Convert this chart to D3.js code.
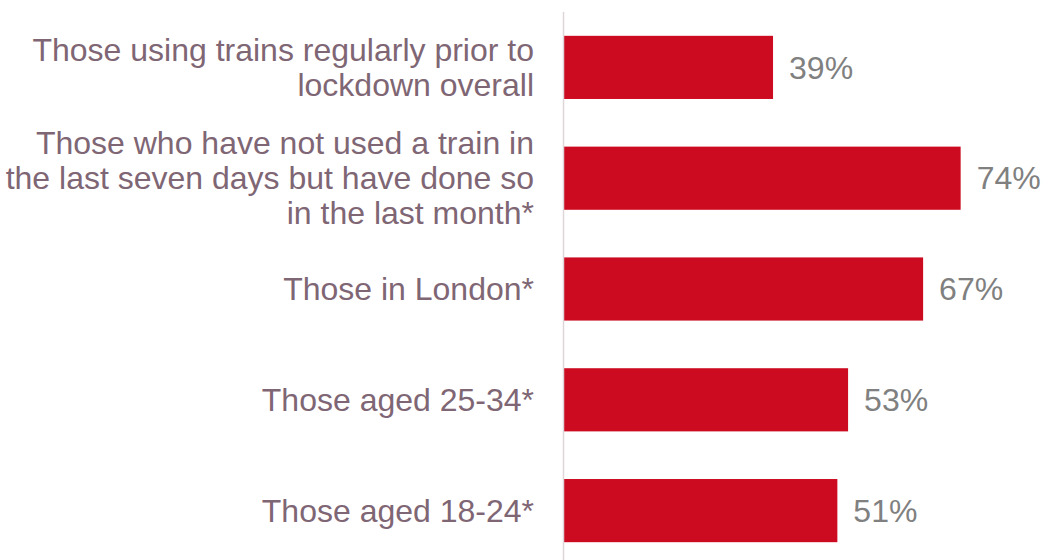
<!DOCTYPE html>
<html><head><meta charset="utf-8">
<script src="https://cdn.jsdelivr.net/npm/d3@7"></script>
<style>body{margin:0;background:#fff}svg{display:block}</style>
</head><body>
<script>
const categories = [
  ["Those using trains regularly prior to", "lockdown overall"],
  ["Those who have not used a train in", "the last seven days but have done so", "in the last month*"],
  ["Those in London*"],
  ["Those aged 25-34*"],
  ["Those aged 18-24*"]
];
const values = [39, 74, 67, 53, 51];
const valueLabels = ["39%", "74%", "67%", "53%", "51%"];

const W = 1044, H = 560;
const svg = d3.select("body").append("svg").attr("width", W).attr("height", H);
const x0 = 564;
const x = d3.scaleLinear().domain([0, 100]).range([x0, x0 + 536]);
const y = d3.scaleBand().domain(d3.range(values.length)).range([12, 566]).paddingInner(0.43).paddingOuter(0.215);

svg.selectAll("rect.bar").data(values).join("rect")
  .attr("class", "bar")
  .attr("x", x(0)).attr("y", (d, i) => y(i))
  .attr("width", d => x(d) - x(0)).attr("height", y.bandwidth())
  .attr("fill", "#cc0a20");

svg.append("line").attr("x1", x0 - 0.5).attr("x2", x0 - 0.5).attr("y1", 12).attr("y2", H)
  .attr("stroke", "#ddd5d8").attr("stroke-width", 1.5);

svg.selectAll("text.val").data(values).join("text")
  .attr("class", "val")
  .attr("x", d => x(d) + 16).attr("y", (d, i) => y(i) + y.bandwidth() / 2)
  .attr("dy", "0.35em")
  .attr("font-family", "Liberation Sans, Arial, sans-serif").attr("font-size", 32)
  .attr("fill", "#808080")
  .text((d, i) => valueLabels[i]);

const lh = 35;
const g = svg.selectAll("text.cat").data(categories).join("text")
  .attr("class", "cat")
  .attr("text-anchor", "end")
  .attr("font-family", "Liberation Sans, Arial, sans-serif").attr("font-size", 32)
  .attr("fill", "#7f6674");
g.each(function (lines, i) {
  const cy = y(i) + y.bandwidth() / 2;
  const start = cy - (lines.length - 1) * lh / 2;
  d3.select(this).selectAll("tspan").data(lines).join("tspan")
    .attr("x", 534).attr("y", (d, j) => start + j * lh).attr("dy", "0.35em")
    .text(d => d);
});
</script>
</body></html>
